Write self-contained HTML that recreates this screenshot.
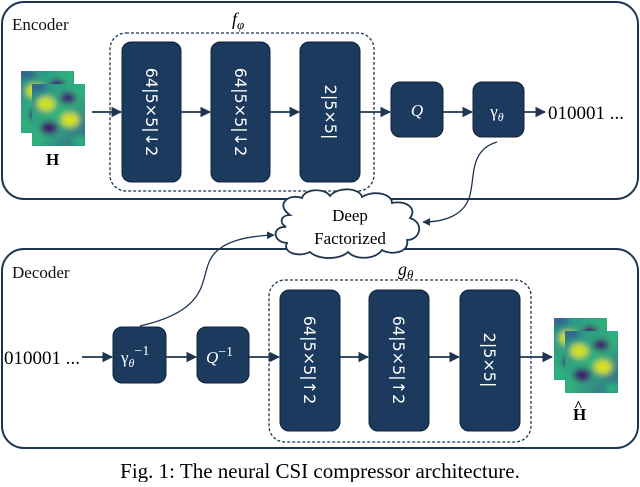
<!DOCTYPE html>
<html><head><meta charset="utf-8"><style>
body{margin:0;background:#fff;width:640px;height:482px;overflow:hidden;font-family:"Liberation Serif",serif}
</style></head><body>
<svg width="640" height="482" viewBox="0 0 640 482" xmlns="http://www.w3.org/2000/svg">
<defs>
<marker id="ar" viewBox="0 0 10 10" refX="9" refY="5" markerWidth="6" markerHeight="6" orient="auto"><path d="M0,0 L10,5 L0,10 z" fill="#1e3550"/></marker>
<linearGradient id="bg1" x1="0" y1="0" x2="1" y2="1"><stop offset="0" stop-color="#2a7f8e"/><stop offset="0.5" stop-color="#2fb47c"/><stop offset="1" stop-color="#3b528b"/></linearGradient>
<filter id="bl" x="0" y="0" width="1" height="1"><feGaussianBlur stdDeviation="3"/></filter>
<clipPath id="cp"><rect width="53" height="62"/></clipPath>
<g id="hm">
<rect width="53" height="62" fill="#2a8a8c"/>
<g clip-path="url(#cp)"><g filter="url(#bl)">
<rect x="-5" y="-5" width="63" height="72" fill="url(#bg1)"/>
<ellipse cx="14" cy="20" rx="9" ry="7" fill="#d0e11c"/>
<ellipse cx="38" cy="36" rx="9" ry="7" fill="#d8e219"/>
<ellipse cx="36" cy="14" rx="8" ry="6" fill="#3e1a6e"/>
<ellipse cx="17" cy="44" rx="9" ry="7" fill="#3e1a6e"/>
<ellipse cx="5" cy="3" rx="10" ry="5" fill="#33638d"/>
<ellipse cx="48" cy="58" rx="8" ry="6" fill="#29af7f"/>
</g></g>
</g>
</defs>
<g fill="none" stroke="#1e3550" stroke-width="2">
<rect x="2" y="2" width="636" height="197" rx="22"/>
<rect x="2" y="249" width="636" height="199" rx="22"/>
</g>
<g fill="none" stroke="#1e3550" stroke-width="1.3" stroke-dasharray="3,2">
<rect x="110" y="33" width="264" height="158" rx="16"/>
<rect x="269" y="280" width="262" height="162" rx="16"/>
</g>
<text x="12" y="30" font-size="17" fill="#111">Encoder</text>
<text x="12" y="278" font-size="17" fill="#111">Decoder</text>
<text x="232" y="25" font-size="18" font-style="italic">f<tspan font-size="13" dy="4">φ</tspan></text>
<text x="398" y="275" font-size="18" font-style="italic">g<tspan font-size="13" dy="4">θ</tspan></text>
<g fill="#1b3a5e" stroke="#0f2238" stroke-width="1">
<rect x="122" y="42" width="59" height="140" rx="9"/>
<rect x="211" y="42" width="59" height="140" rx="9"/>
<rect x="300" y="42" width="60" height="140" rx="9"/>
<rect x="391" y="82" width="52" height="55" rx="9"/>
<rect x="473" y="82" width="51" height="55" rx="9"/>
<rect x="280" y="290" width="60" height="141" rx="9"/>
<rect x="369" y="290" width="60" height="141" rx="9"/>
<rect x="460" y="290" width="60" height="141" rx="9"/>
<rect x="113" y="327" width="53" height="56" rx="9"/>
<rect x="197" y="327" width="52" height="56" rx="9"/>
</g>
<g fill="#fff" font-family="DejaVu Sans, sans-serif" font-size="16">
<text transform="translate(146,112) rotate(90)" text-anchor="middle">64|5×5|↓2</text>
<text transform="translate(235,112) rotate(90)" text-anchor="middle">64|5×5|↓2</text>
<text transform="translate(325,112) rotate(90)" text-anchor="middle">2|5×5|</text>
<text transform="translate(304,360) rotate(90)" text-anchor="middle">64|5×5|↑2</text>
<text transform="translate(393,360) rotate(90)" text-anchor="middle">64|5×5|↑2</text>
<text transform="translate(484,360) rotate(90)" text-anchor="middle">2|5×5|</text>
</g>
<g fill="#fff" font-size="17" font-family="Liberation Serif, serif">
<text x="417" y="116" text-anchor="middle" font-style="italic">Q</text>
<text x="497" y="117" text-anchor="middle">γ<tspan font-size="12" dy="4" font-style="italic">θ</tspan></text>
<text x="121" y="363">γ<tspan font-size="12" dy="4" font-style="italic">θ</tspan><tspan dy="-12" font-size="14">−1</tspan></text>
<text x="206" y="363"><tspan font-style="italic">Q</tspan><tspan dy="-7" font-size="14">−1</tspan></text>
</g>
<g stroke="#1e3550" stroke-width="1.8" marker-end="url(#ar)" fill="none">
<line x1="92" y1="112" x2="121" y2="112"/>
<line x1="181" y1="112" x2="210" y2="112"/>
<line x1="270" y1="112" x2="299" y2="112"/>
<line x1="360" y1="112" x2="390" y2="112"/>
<line x1="443" y1="112" x2="472" y2="112"/>
<line x1="524" y1="112" x2="545" y2="112"/>
<line x1="82" y1="357" x2="112" y2="357"/>
<line x1="166" y1="357" x2="196" y2="357"/>
<line x1="249" y1="357" x2="279" y2="357"/>
<line x1="340" y1="357" x2="368" y2="357"/>
<line x1="429" y1="357" x2="459" y2="357"/>
<line x1="520" y1="357" x2="552" y2="357"/>
<path d="M497,142 C470,150 475,175 470,195 C465,215 445,222 423,222" stroke-width="1.3"/>
<path d="M140,326 C210,310 200,280 210,260 C220,240 250,236 274,235" stroke-width="1.3"/>
</g>
<text x="548" y="119" font-size="19">010001 ...</text>
<text x="4" y="364" font-size="19">010001 ...</text>
<path d="M290,215 C275,205 288,193 302,198 C305,188 325,188 330,196 C338,186 360,188 362,197 C372,190 392,193 392,203 C405,200 418,208 410,218 C425,223 420,240 407,240 C410,252 392,256 382,250 C375,260 355,260 348,252 C340,260 318,260 310,252 C298,258 282,252 287,243 C272,242 272,226 286,227 C278,222 282,215 290,215 z" fill="#fff" stroke="#1e3550" stroke-width="1.8"/>
<text x="350" y="221" font-size="17" text-anchor="middle">Deep</text>
<text x="350" y="244" font-size="17" text-anchor="middle">Factorized</text>
<use href="#hm" x="21" y="71"/>
<rect x="32" y="84" width="53" height="62" fill="#fff"/>
<use href="#hm" x="32" y="84"/>
<text x="46" y="165" font-size="17" font-weight="bold">H</text>
<use href="#hm" x="554" y="318"/>
<rect x="565" y="331" width="53" height="62" fill="#fff"/>
<use href="#hm" x="565" y="331"/>
<text x="573" y="420" font-size="17" font-weight="bold">H</text>
<text x="574" y="411" font-size="15" font-weight="bold">^</text>
<text x="320" y="478" font-size="21" text-anchor="middle">Fig. 1: The neural CSI compressor architecture.</text>
</svg>
</body></html>
